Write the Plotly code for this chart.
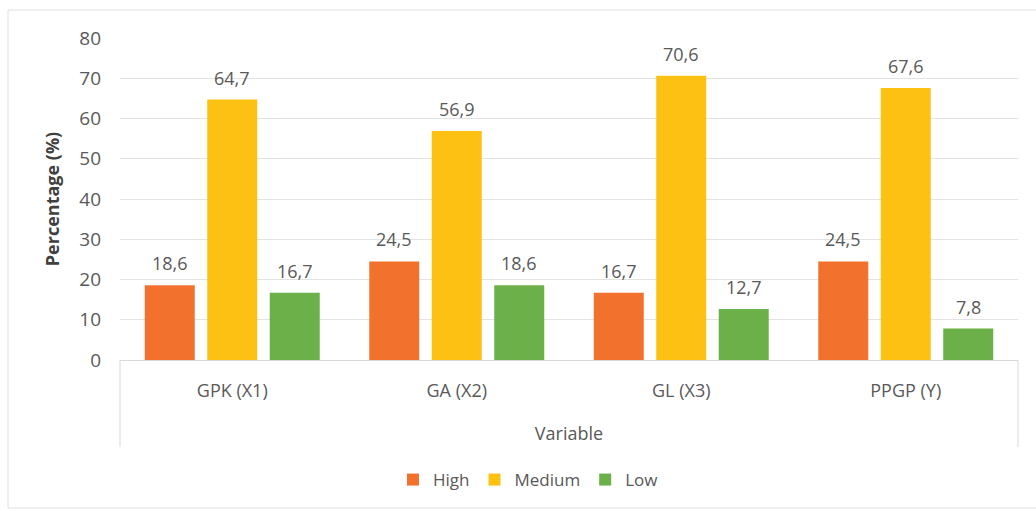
import plotly.graph_objects as go

categories = ["GPK (X1)", "GA (X2)", "GL (X3)", "PPGP (Y)"]
high = [18.6, 24.5, 16.7, 24.5]
medium = [64.7, 56.9, 70.6, 67.6]
low = [16.7, 18.6, 12.7, 7.8]
y_ticks = [0, 10, 20, 30, 40, 50, 60, 70, 80]

series = [
    ("High", high, "#F2722D"),
    ("Medium", medium, "#FDC114"),
    ("Low", low, "#6BB049"),
]

L, R, T, B = 120, 18, 38, 151
W, H = 1036, 511
pw = W - L - R
ph = H - T - B

BARGAP = 0.165
GROUPGAP = 0.2
cat_w = pw / len(categories)
slot = cat_w * (1 - BARGAP) / len(series)

fig = go.Figure()
for i, (name, vals, col) in enumerate(series):
    fig.add_trace(go.Bar(
        x=categories, y=vals, name=name,
        marker=dict(color=col, line=dict(width=0)),
    ))
    off = (i - (len(series) - 1) / 2) * slot
    for c, v in zip(categories, vals):
        fig.add_annotation(
            x=c, y=v, xref="x", yref="y", xshift=off, yshift=22,
            yanchor="middle", showarrow=False,
            text=f"{v:.1f}".replace(".", ","),
            font=dict(family="Open Sans", size=18, color="#595959"),
        )

fig.update_layout(
    width=W, height=H,
    margin=dict(l=L, r=R, t=T, b=B),
    paper_bgcolor="white", plot_bgcolor="white",
    barmode="group", bargap=BARGAP, bargroupgap=GROUPGAP,
    font=dict(family="Open Sans", color="#595959"),
    showlegend=True,
    legend=dict(
        orientation="h", x=(528 - L) / pw, xanchor="center",
        y=-(480 - (T + ph)) / ph, yanchor="middle",
        font=dict(size=17, color="#595959"),
        itemwidth=30, traceorder="normal",
    ),
    xaxis=dict(
        showgrid=False, showline=True, linecolor="#D9D9D9", linewidth=1,
        ticks="", tickfont=dict(size=18, color="#595959"), ticklabelstandoff=14,
        title=dict(text="Variable", font=dict(size=18, color="#595959"), standoff=26),
    ),
    yaxis=dict(
        range=[0, 80], tickvals=y_ticks, showgrid=True, gridcolor="#E3E3E3",
        gridwidth=1, zeroline=False, showline=False, ticks="",
        tickfont=dict(size=19, color="#595959"), ticklabelstandoff=18,
        title=dict(text="<b>Percentage (%)</b>", font=dict(size=18, color="#404040"), standoff=14),
    ),
)

bot = -(447 - (T + ph)) / ph
for xv in (0, 1):
    fig.add_shape(type="line", xref="paper", yref="paper", x0=xv, x1=xv, y0=0, y1=bot,
                  line=dict(color="#D9D9D9", width=1))

fig.add_shape(type="rect", xref="paper", yref="paper",
              x0=(8 - L) / pw, x1=(1045 - L) / pw,
              y0=-(508 - (T + ph)) / ph, y1=((T + ph) - 10) / ph,
              line=dict(color="#E0E0E0", width=1), layer="below")

fig.write_html("out.html")
